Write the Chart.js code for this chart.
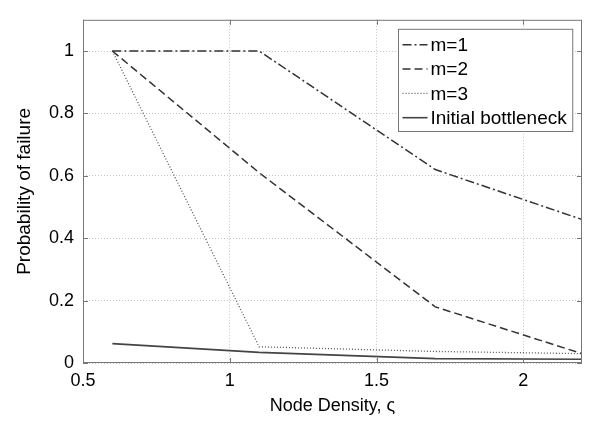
<!DOCTYPE html>
<html>
<head>
<meta charset="utf-8">
<script src="https://cdn.jsdelivr.net/npm/chart.js"></script>
<style>
  html, body { margin: 0; padding: 0; background: #fff; }
  #wrap { width: 590px; height: 421px; }
</style>
</head>
<body>
<div id="wrap"><canvas id="chart" width="590" height="421"></canvas></div>
<script>
// node density values (x) and failure probabilities per curve
const densities = [0.6, 1.1, 1.7, 2.2];
const m1 = [1, 1, 0.62, 0.46];
const m2 = [1, 0.61, 0.18, 0.03];
const m3 = [1, 0.052, 0.037, 0.03];
const bottleneck = [0.062, 0.034, 0.014, 0.012];
const seriesLabels = ["m=1", "m=2", "m=3", "Initial bottleneck"];

const FONT = "'Liberation Sans', Arial, Helvetica, sans-serif";
Chart.defaults.font.family = FONT;
Chart.defaults.color = "#000";

function points(values) {
    return densities.map((d, i) => ({ x: d, y: values[i] }));
}

// plain tick text like MATLAB: 1 instead of 1.0
function plainTick(value) {
    return String(Math.round(value * 100) / 100);
}

// box around the axes plus the small inward tick marks
const framePlugin = {
    id: "frame",
    afterDatasetsDraw(chart) {
        const { ctx, chartArea: a, scales } = chart;
        ctx.save();
        ctx.setLineDash([]);
        ctx.strokeStyle = "#777";
        ctx.lineWidth = 1;
        ctx.strokeRect(a.left + 0.5, a.top + 0.5, a.width - 1, a.height - 1);
        ctx.beginPath();
        scales.x.ticks.forEach(t => {
            const px = Math.round(scales.x.getPixelForValue(t.value)) + 0.5;
            ctx.moveTo(px, a.bottom); ctx.lineTo(px, a.bottom - 5);
            ctx.moveTo(px, a.top); ctx.lineTo(px, a.top + 5);
        });
        scales.y.ticks.forEach(t => {
            const py = Math.round(scales.y.getPixelForValue(t.value)) + 0.5;
            ctx.moveTo(a.left, py); ctx.lineTo(a.left + 5, py);
            ctx.moveTo(a.right, py); ctx.lineTo(a.right - 5, py);
        });
        ctx.stroke();
        ctx.restore();
    }
};

// MATLAB-style legend box with line samples, top right inside the axes
const legendPlugin = {
    id: "boxLegend",
    afterDraw(chart) {
        const { ctx, chartArea: a } = chart;
        const sets = chart.data.datasets;
        ctx.save();
        ctx.font = "19px " + FONT;
        const textW = Math.max(...sets.map(s => ctx.measureText(s.label).width));
        const sample = 25, padL = 4, gap = 3, padR = 6, rowH = 24.3;
        const w = padL + sample + gap + textW + padR;
        const h = rowH * sets.length + 5;
        const left = Math.round(a.right - 10 - w) + 0.5;
        const top = a.top + 9.5;
        ctx.fillStyle = "#fff";
        ctx.fillRect(left, top, w, h);
        ctx.strokeStyle = "#777";
        ctx.lineWidth = 1;
        ctx.setLineDash([]);
        ctx.strokeRect(left, top, w, h);
        sets.forEach((s, i) => {
            const cy = top + 15.5 + i * rowH;
            ctx.beginPath();
            ctx.strokeStyle = s.borderColor;
            ctx.lineWidth = s.borderWidth;
            ctx.setLineDash(s.borderDash || []);
            ctx.moveTo(left + padL, cy);
            ctx.lineTo(left + padL + sample, cy);
            ctx.stroke();
            ctx.fillStyle = "#000";
            ctx.textBaseline = "middle";
            ctx.fillText(s.label, left + padL + sample + gap, cy + 1);
        });
        ctx.restore();
    }
};

new Chart(document.getElementById("chart"), {
    type: "line",
    data: {
        datasets: [
            { label: seriesLabels[0], data: points(m1), borderColor: "#333", borderWidth: 1.5, borderDash: [9, 3, 2, 3] },
            { label: seriesLabels[1], data: points(m2), borderColor: "#333", borderWidth: 1.5, borderDash: [8, 4] },
            { label: seriesLabels[2], data: points(m3), borderColor: "#555", borderWidth: 1.3, borderDash: [1, 2] },
            { label: seriesLabels[3], data: points(bottleneck), borderColor: "#444", borderWidth: 1.6, borderDash: [] }
        ]
    },
    options: {
        responsive: false,
        animation: false,
        layout: { padding: { top: 7, right: 8, left: 0, bottom: 0 } },
        elements: { point: { radius: 0 }, line: { tension: 0 } },
        plugins: { legend: { display: false }, tooltip: { enabled: false } },
        scales: {
            x: {
                type: "linear",
                min: 0.5,
                max: 2.2,
                afterFit(s) { s.height = 58; },
                ticks: { stepSize: 0.5, includeBounds: false, padding: 7, font: { size: 18 }, color: "#000", callback: plainTick },
                grid: { color: "#c4c4c4", lineWidth: 1, drawTicks: false },
                border: { display: false, dash: [1, 2] },
                title: { display: true, text: "Node Density, ς", font: { size: 18 }, color: "#000", padding: { top: 0, bottom: 4 } }
            },
            y: {
                type: "linear",
                min: 0,
                max: 1.1,
                afterFit(s) { s.width = 83; },
                ticks: { stepSize: 0.2, includeBounds: false, padding: 9, font: { size: 18 }, color: "#000", callback: plainTick },
                grid: { color: "#c4c4c4", lineWidth: 1, drawTicks: false },
                border: { display: false, dash: [1, 2] },
                title: { display: true, text: "Probability of failure", font: { size: 19 }, color: "#000", padding: { top: 13, bottom: 0 } }
            }
        }
    },
    plugins: [framePlugin, legendPlugin]
});
</script>
</body>
</html>
